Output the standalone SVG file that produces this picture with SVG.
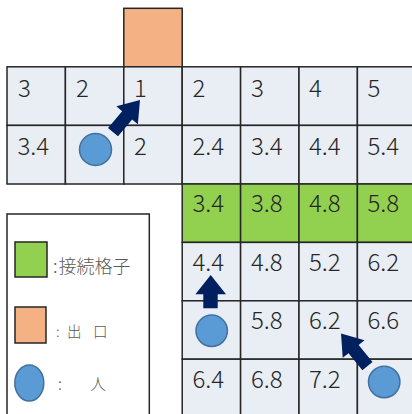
<svg xmlns="http://www.w3.org/2000/svg" width="412" height="414" viewBox="0 0 412 414">
<style>
.c{fill:#E9EDF4;stroke:#262626;stroke-width:1.5}
.g{fill:#92D050;stroke:#262626;stroke-width:1.5}
.o{fill:#F4B183;stroke:#262626;stroke-width:1.5}
.t{font-family:"Noto Sans CJK JP","Liberation Sans",sans-serif;font-size:24px;font-weight:300;fill:#262626}
.p{fill:#5B9BD5;stroke:#41719C;stroke-width:1.5}
.a{fill:#002060}
.l{font-family:"Noto Sans CJK JP",sans-serif;font-weight:300;fill:#595959}
</style>
<defs>
<path id="arr" d="M0,0 L-20,-14 L-20,-6.5 L-42,-6.5 L-42,6.5 L-20,6.5 L-20,14 Z"/>
</defs>
<rect width="412" height="414" fill="#fff"/>
<g id="exit"><rect class="o" x="123.8" y="8.3" width="58.4" height="58.5"/></g>
<g id="row1">
<g id="r1c1"><rect class="c" x="7" y="66.8" width="58.4" height="58.6"/><text class="t" x="18" y="97">3</text></g>
<g id="r1c2"><rect class="c" x="65.4" y="66.8" width="58.4" height="58.6"/><text class="t" x="76" y="97">2</text></g>
<g id="r1c3"><rect class="c" x="123.8" y="66.8" width="58.4" height="58.6"/><text class="t" x="134" y="97">1</text></g>
<g id="r1c4"><rect class="c" x="182.2" y="66.8" width="58.4" height="58.6"/><text class="t" x="192.5" y="97">2</text></g>
<g id="r1c5"><rect class="c" x="240.6" y="66.8" width="58.4" height="58.6"/><text class="t" x="251" y="97">3</text></g>
<g id="r1c6"><rect class="c" x="299" y="66.8" width="58.4" height="58.6"/><text class="t" x="309" y="97">4</text></g>
<g id="r1c7"><rect class="c" x="357.4" y="66.8" width="58.4" height="58.6"/><text class="t" x="367.5" y="97">5</text></g>
</g>
<g id="row2">
<g id="r2c1"><rect class="c" x="7" y="125.4" width="58.4" height="58.6"/><text class="t" x="17.5" y="154.5">3.4</text></g>
<g id="r2c2"><rect class="c" x="65.4" y="125.4" width="58.4" height="58.6"/></g>
<g id="r2c3"><rect class="c" x="123.8" y="125.4" width="58.4" height="58.6"/><text class="t" x="134" y="154.5">2</text></g>
<g id="r2c4"><rect class="c" x="182.2" y="125.4" width="58.4" height="58.6"/><text class="t" x="192.5" y="154.5">2.4</text></g>
<g id="r2c5"><rect class="c" x="240.6" y="125.4" width="58.4" height="58.6"/><text class="t" x="251" y="154.5">3.4</text></g>
<g id="r2c6"><rect class="c" x="299" y="125.4" width="58.4" height="58.6"/><text class="t" x="309" y="154.5">4.4</text></g>
<g id="r2c7"><rect class="c" x="357.4" y="125.4" width="58.4" height="58.6"/><text class="t" x="367.5" y="154.5">5.4</text></g>
</g>
<g id="row3">
<g id="r3c4"><rect class="g" x="182.2" y="184" width="58.4" height="58.4"/><text class="t" x="192.5" y="211.5">3.4</text></g>
<g id="r3c5"><rect class="g" x="240.6" y="184" width="58.4" height="58.4"/><text class="t" x="251" y="211.5">3.8</text></g>
<g id="r3c6"><rect class="g" x="299" y="184" width="58.4" height="58.4"/><text class="t" x="309" y="211.5">4.8</text></g>
<g id="r3c7"><rect class="g" x="357.4" y="184" width="58.4" height="58.4"/><text class="t" x="367.5" y="211.5">5.8</text></g>
</g>
<g id="row4">
<g id="r4c4"><rect class="c" x="182.2" y="242.4" width="58.4" height="58.4"/><text class="t" x="192.5" y="270.5">4.4</text></g>
<g id="r4c5"><rect class="c" x="240.6" y="242.4" width="58.4" height="58.4"/><text class="t" x="251" y="270.5">4.8</text></g>
<g id="r4c6"><rect class="c" x="299" y="242.4" width="58.4" height="58.4"/><text class="t" x="309" y="270.5">5.2</text></g>
<g id="r4c7"><rect class="c" x="357.4" y="242.4" width="58.4" height="58.4"/><text class="t" x="367.5" y="270.5">6.2</text></g>
</g>
<g id="row5">
<g id="r5c4"><rect class="c" x="182.2" y="300.8" width="58.4" height="58.4"/></g>
<g id="r5c5"><rect class="c" x="240.6" y="300.8" width="58.4" height="58.4"/><text class="t" x="251" y="328.5">5.8</text></g>
<g id="r5c6"><rect class="c" x="299" y="300.8" width="58.4" height="58.4"/><text class="t" x="309" y="328.5">6.2</text></g>
<g id="r5c7"><rect class="c" x="357.4" y="300.8" width="58.4" height="58.4"/><text class="t" x="367.5" y="328.5">6.6</text></g>
</g>
<g id="row6">
<g id="r6c4"><rect class="c" x="182.2" y="359.2" width="58.4" height="58.4"/><text class="t" x="192.5" y="387.5">6.4</text></g>
<g id="r6c5"><rect class="c" x="240.6" y="359.2" width="58.4" height="58.4"/><text class="t" x="251" y="387.5">6.8</text></g>
<g id="r6c6"><rect class="c" x="299" y="359.2" width="58.4" height="58.4"/><text class="t" x="309" y="387.5">7.2</text></g>
<g id="r6c7"><rect class="c" x="357.4" y="359.2" width="58.4" height="58.4"/></g>
</g>
<g id="people">
<circle id="person1" class="p" cx="95.5" cy="149.5" r="16"/>
<circle id="person2" class="p" cx="211.7" cy="330.8" r="15.7"/>
<circle id="person3" class="p" cx="384.2" cy="382" r="15.7"/>
</g>
<g id="connectors">
<use href="#arr" class="a" transform="translate(140,100) rotate(-50)"/>
<path class="a" d="M210.7,275 L226,294.3 L217.7,294.3 L217.7,308.3 L203.3,308.3 L203.3,294.3 L195.4,294.3 Z"/>
<use href="#arr" class="a" transform="translate(341,333.5) rotate(-129)"/>
</g>
<g id="legend">
<rect x="7" y="214" width="142.3" height="210" fill="#fff" stroke="#262626" stroke-width="1.5"/>
<rect x="15" y="242" width="32" height="35" fill="#92D050" stroke="#262626" stroke-width="1.5"/>
<text class="l" font-size="18" y="273"><tspan x="53">:</tspan><tspan x="58.5">接続格子</tspan></text>
<rect x="15" y="307" width="31" height="36" fill="#F4B183" stroke="#262626" stroke-width="1.5"/>
<text class="l" font-size="14.5" y="337"><tspan x="56">:</tspan><tspan x="67">出</tspan><tspan x="93">口</tspan></text>
<ellipse cx="29.3" cy="383" rx="14.5" ry="18" fill="#5B9BD5" stroke="#41719C" stroke-width="1.5"/>
<text class="l" font-size="16" y="390"><tspan x="58">:</tspan><tspan x="90">人</tspan></text>
</g>
</svg>
